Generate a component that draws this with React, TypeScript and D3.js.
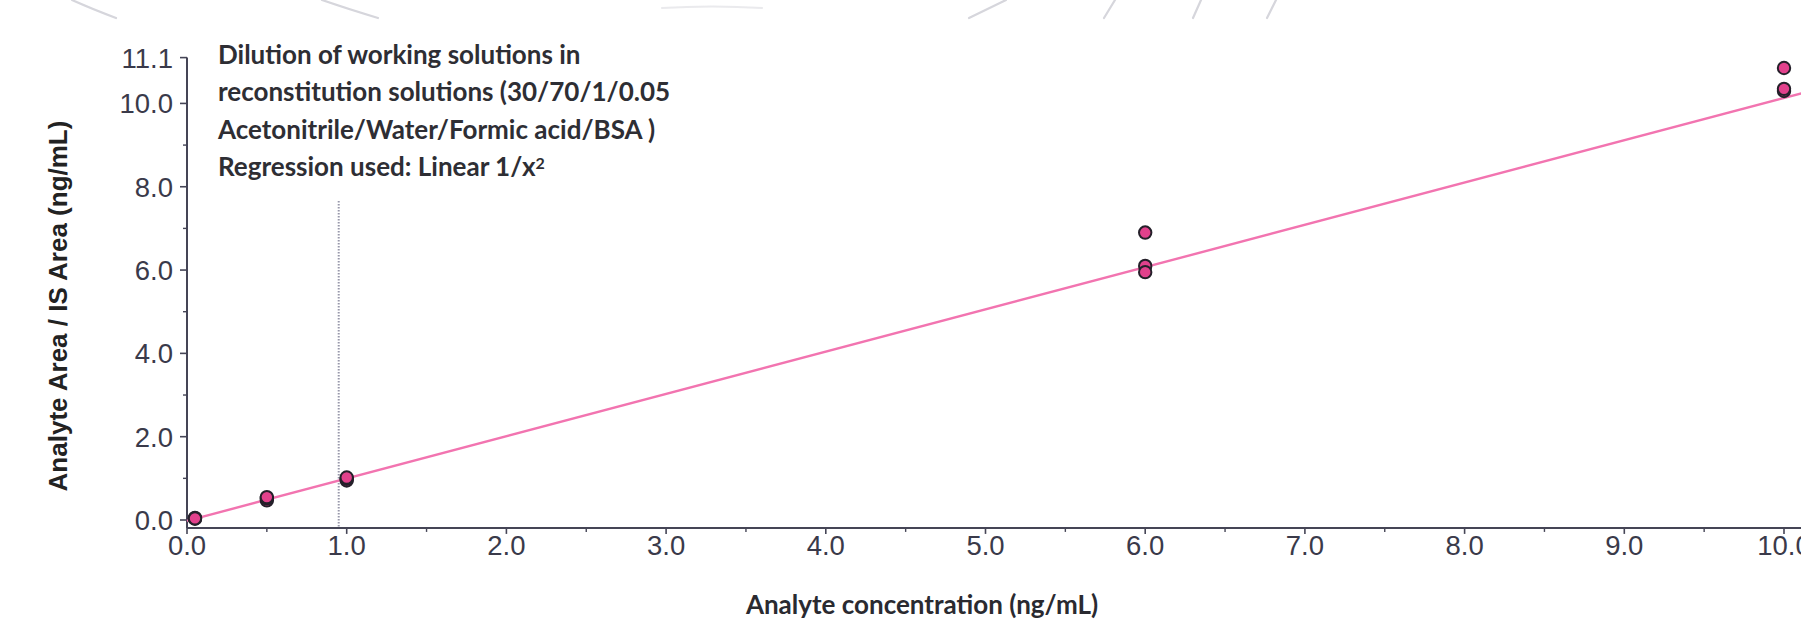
import React from "react";
import * as d3 from "d3";

// Calibration levels (ng/mL) and measured response ratios, three replicates each
const pointX = [0.05, 0.05, 0.05, 0.5, 0.5, 0.5, 1.0, 1.0, 1.0, 6.0, 6.0, 6.0, 10.0, 10.0, 10.0];
const pointY = [0.03, 0.05, 0.04, 0.47, 0.52, 0.55, 0.95, 0.99, 1.02, 6.9, 6.1, 5.95, 10.85, 10.3, 10.35];

// Weighted (1/x²) linear fit
const fitSlope = 1.015;
const fitIntercept = -0.02;
const fitRange = [0, 10.2];

// Marker for the lowest level
const markerX = [0.95];

const xMajorTicks = [0, 1, 2, 3, 4, 5, 6, 7, 8, 9, 10];
const xMinorTicks = [0.5, 1.5, 2.5, 3.5, 4.5, 5.5, 6.5, 7.5, 8.5, 9.5];
const yMajorTicks = [0, 2, 4, 6, 8, 10, 11.1];
const yMinorTicks = [1, 3, 5, 7, 9];

const noteLines = [
  "Dilution of working solutions in",
  "reconstitution solutions (30/70/1/0.05",
  "Acetonitrile/Water/Formic acid/BSA  )",
  "Regression used: Linear 1/x",
];

const xTitle = "Analyte concentration (ng/mL)";
const yTitle = "Analyte Area / IS Area (ng/mL)";

const W = 1801;
const H = 631;

export default function App() {
  const x = d3.scaleLinear().domain([0, 10]).range([187, 1784]);
  const y = d3.scaleLinear().domain([0, 11.1]).range([520, 57.6]);
  const axisY = y(-0.19);
  const axisColor = "#454556";
  const tickColor = "#3a3a4a";

  const fitLine = d3
    .line<number>()
    .x((d) => x(d))
    .y((d) => y(fitSlope * d + fitIntercept))(fitRange);

  return (
    <div style={{ position: "absolute", left: 0, top: 0 }}>
      <svg width={W} height={H} style={{ display: "block", background: "#fff" }}>
        {/* faint strokes along the top edge */}
        <g stroke="#d6d6dc" strokeWidth={2.2} fill="none" strokeLinecap="round">
          <path d="M 72 0 Q 92 9 116 18" />
          <path d="M 322 0 Q 348 9 378 18" />
          <path d="M 662 8 Q 712 5 762 8" opacity={0.5} />
          <path d="M 969 18 L 1006 0" />
          <path d="M 1104 18 L 1115 0" />
          <path d="M 1193 18 L 1201 0" />
          <path d="M 1267 18 L 1276 0" />
        </g>

        {/* marker line */}
        {markerX.map((v, i) => (
          <line
            key={i}
            x1={x(v)}
            x2={x(v)}
            y1={201}
            y2={axisY}
            stroke="#9898aa"
            strokeWidth={2}
            strokeDasharray="1.5,1.5"
          />
        ))}

        {/* axes */}
        <line x1={x(0)} x2={W} y1={axisY} y2={axisY} stroke={axisColor} strokeWidth={2} />
        <line x1={x(0)} x2={x(0)} y1={axisY} y2={y(11.1)} stroke={axisColor} strokeWidth={2} />

        {xMajorTicks.map((t) => (
          <g key={"xm" + t}>
            <line x1={x(t)} x2={x(t)} y1={axisY} y2={axisY + 6} stroke={axisColor} strokeWidth={1.6} />
            <text
              x={x(t)}
              y={axisY + 27}
              textAnchor="middle"
              fontFamily="Liberation Sans, Arial, sans-serif"
              fontSize={27.5}
              fill={tickColor}
            >
              {t.toFixed(1)}
            </text>
          </g>
        ))}
        {xMinorTicks.map((t) => (
          <line key={"xn" + t} x1={x(t)} x2={x(t)} y1={axisY} y2={axisY + 4} stroke={axisColor} strokeWidth={1.4} />
        ))}

        {yMajorTicks.map((t) => (
          <g key={"ym" + t}>
            <line x1={x(0) - 7} x2={x(0)} y1={y(t)} y2={y(t)} stroke={axisColor} strokeWidth={1.6} />
            <text
              x={x(0) - 14}
              y={y(t)}
              dy="0.36em"
              textAnchor="end"
              fontFamily="Liberation Sans, Arial, sans-serif"
              fontSize={27.5}
              fill={tickColor}
            >
              {t.toFixed(1)}
            </text>
          </g>
        ))}
        {yMinorTicks.map((t) => (
          <line key={"yn" + t} x1={x(0) - 4} x2={x(0)} y1={y(t)} y2={y(t)} stroke={axisColor} strokeWidth={1.4} />
        ))}

        {/* regression line */}
        <path d={fitLine ?? ""} stroke="#f274b0" strokeWidth={2.4} fill="none" />

        {/* replicate points */}
        {pointX.map((v, i) => (
          <circle
            key={i}
            cx={x(v)}
            cy={y(pointY[i])}
            r={6.2}
            fill="#e2418c"
            stroke="#25202a"
            strokeWidth={2}
          />
        ))}

        {/* annotation */}
        <g fontFamily="Lato, Open Sans, sans-serif" fontWeight={700} fontSize={26} fill="#2e2e34">
          {noteLines.map((s, i) => (
            <text key={i} x={218} y={55 + i * 37.2} dy="0.35em">
              {s}
              {i === noteLines.length - 1 ? (
                <tspan dy="-0.45em" fontSize={16}>
                  2
                </tspan>
              ) : null}
            </text>
          ))}
        </g>

        {/* axis titles */}
        <text
          x={922}
          y={605}
          dy="0.35em"
          textAnchor="middle"
          fontFamily="Lato, Open Sans, sans-serif"
          fontWeight={700}
          fontSize={26}
          fill="#2a2a30"
        >
          {xTitle}
        </text>
        <text
          transform="translate(58, 306) rotate(-90)"
          dy="0.35em"
          textAnchor="middle"
          fontFamily="Liberation Sans, Arial, sans-serif"
          fontWeight={700}
          fontSize={26}
          fill="#222"
        >
          {yTitle}
        </text>
      </svg>
    </div>
  );
}
